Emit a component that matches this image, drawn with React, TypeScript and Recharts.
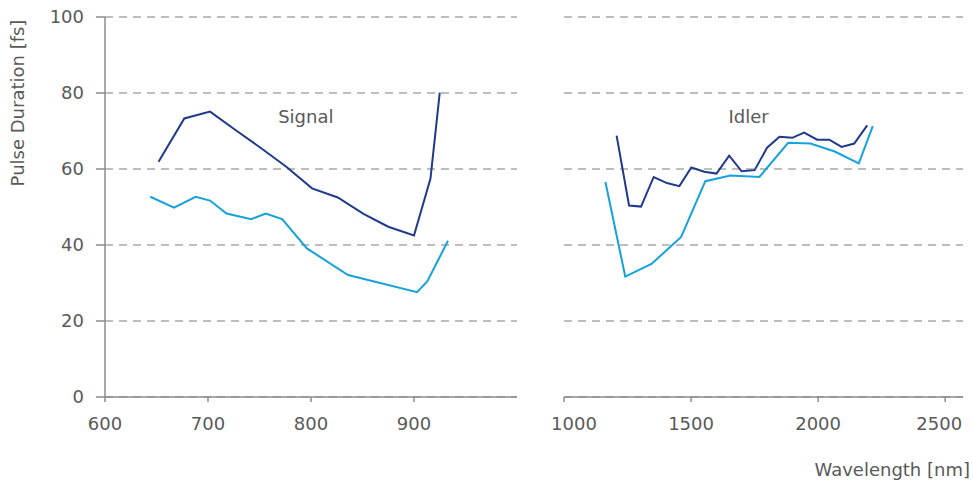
import { CartesianGrid, Line, LineChart, ReferenceDot, XAxis, YAxis } from "recharts";

// Signal panel (600-1000 nm)
const signalDarkNm = [652, 677, 702, 727, 752, 776, 801, 826, 851, 875, 900, 916, 925];
const signalDarkFs = [61.9, 73.3, 75.1, 70.2, 65.4, 60.6, 54.9, 52.5, 48.2, 44.8, 42.5, 57.5, 80.1];
const signalLightNm = [644, 667, 688, 702, 718, 742, 756, 772, 796, 836, 903, 913, 933];
const signalLightFs = [52.7, 49.8, 52.7, 51.7, 48.3, 46.8, 48.3, 46.8, 39.1, 32.1, 27.6, 30.5, 41.1];

// Idler panel (1000-2570 nm)
const idlerDarkNm = [1207, 1256, 1303, 1353, 1405, 1454, 1501, 1552, 1600, 1650, 1699, 1750, 1799, 1848, 1898, 1945, 1996, 2044, 2092, 2142, 2193];
const idlerDarkFs = [68.8, 50.4, 50.1, 57.9, 56.3, 55.5, 60.4, 59.3, 58.8, 63.5, 59.4, 59.7, 65.6, 68.5, 68.2, 69.6, 67.7, 67.7, 65.8, 66.7, 71.5];
const idlerLightNm = [1163, 1241, 1344, 1461, 1556, 1655, 1769, 1882, 1970, 2065, 2160, 2215];
const idlerLightFs = [56.6, 31.7, 35.0, 42.1, 56.8, 58.3, 57.9, 66.9, 66.7, 64.6, 61.5, 71.3];

const yTicks = [0, 20, 40, 60, 80, 100];
const signalTicks = [600, 700, 800, 900];
const idlerTicks = [1000, 1500, 2000, 2500];

const toRows = (xs: number[], ys: number[]) => xs.map((nm, i) => ({ nm, fs: ys[i] }));

const AXIS = "#8c8c8c";
const GRID = "#a8a8a8";
const TEXT = "#595959";
const DARK = "#1f3a8c";
const LIGHT = "#15a2dc";
const FONT = "DejaVu Sans";

const tickStyle = { fill: TEXT, fontSize: 18, fontFamily: FONT };
const axisLine = { stroke: AXIS, strokeWidth: 1.5 };

// edge labels of the idler axis sit a bit inwards, like in the original
const IdlerTick = (props: any) => {
  const { x, y, payload, index } = props;
  const shift = index === 0 ? 10 : index === idlerTicks.length - 1 ? -6 : 0;
  return (
    <text x={x + shift} y={y} dy="0.71em" textAnchor="middle" fill={TEXT} fontSize={18} fontFamily={FONT}>
      {payload.value}
    </text>
  );
};

export default function App() {
  return (
    <div style={{ position: "absolute", left: 0, top: 0, width: 973, height: 483, background: "#fff", fontFamily: FONT }}>
      <div style={{ position: "absolute", left: 0, top: 0 }}>
        <LineChart width={530} height={483} margin={{ top: 17, right: 13, bottom: 56, left: 0 }}>
          <CartesianGrid vertical={false} stroke={GRID} strokeWidth={1.5} strokeDasharray="8 6" />
          <XAxis
            dataKey="nm"
            type="number"
            domain={[600, 1000]}
            ticks={signalTicks}
            allowDataOverflow
            height={30}
            tickSize={5}
            tickMargin={15}
            axisLine={axisLine}
            tickLine={axisLine}
            tick={tickStyle}
          />
          <YAxis
            type="number"
            domain={[0, 100]}
            ticks={yTicks}
            width={105}
            tickSize={9}
            tickMargin={12}
            axisLine={axisLine}
            tickLine={axisLine}
            tick={tickStyle}
          />
          <Line data={toRows(signalLightNm, signalLightFs)} dataKey="fs" stroke={LIGHT} strokeWidth={2} dot={false} isAnimationActive={false} />
          <Line data={toRows(signalDarkNm, signalDarkFs)} dataKey="fs" stroke={DARK} strokeWidth={2} dot={false} isAnimationActive={false} />
          <ReferenceDot x={795} y={73.7} r={0} fill="none" stroke="none"
            label={{ value: "Signal", position: "center", fill: TEXT, fontSize: 18, fontFamily: FONT }} />
        </LineChart>
      </div>
      <div style={{ position: "absolute", left: 540, top: 0 }}>
        <LineChart width={433} height={483} margin={{ top: 17, right: 10, bottom: 56, left: 24 }}>
          <CartesianGrid vertical={false} stroke={GRID} strokeWidth={1.5} strokeDasharray="8 6" />
          <XAxis
            dataKey="nm"
            type="number"
            domain={[1000, 2570]}
            ticks={idlerTicks}
            allowDataOverflow
            height={30}
            tickSize={5}
            tickMargin={15}
            axisLine={axisLine}
            tickLine={axisLine}
            tick={IdlerTick}
          />
          <YAxis type="number" domain={[0, 100]} ticks={yTicks} hide />
          <Line data={toRows(idlerLightNm, idlerLightFs)} dataKey="fs" stroke={LIGHT} strokeWidth={2} dot={false} isAnimationActive={false} />
          <Line data={toRows(idlerDarkNm, idlerDarkFs)} dataKey="fs" stroke={DARK} strokeWidth={2} dot={false} isAnimationActive={false} />
          <ReferenceDot x={1726} y={73.7} r={0} fill="none" stroke="none"
            label={{ value: "Idler", position: "center", fill: TEXT, fontSize: 18, fontFamily: FONT }} />
        </LineChart>
      </div>
      <svg width={973} height={483} style={{ position: "absolute", left: 0, top: 0, pointerEvents: "none" }}>
        <text transform="translate(24,103) rotate(-90)" textAnchor="middle" fill={TEXT} fontSize={18} fontFamily={FONT}>
          Pulse Duration [fs]
        </text>
        <text x={970} y={476} textAnchor="end" fill={TEXT} fontSize={18} fontFamily={FONT}>
          Wavelength [nm]
        </text>
      </svg>
    </div>
  );
}
